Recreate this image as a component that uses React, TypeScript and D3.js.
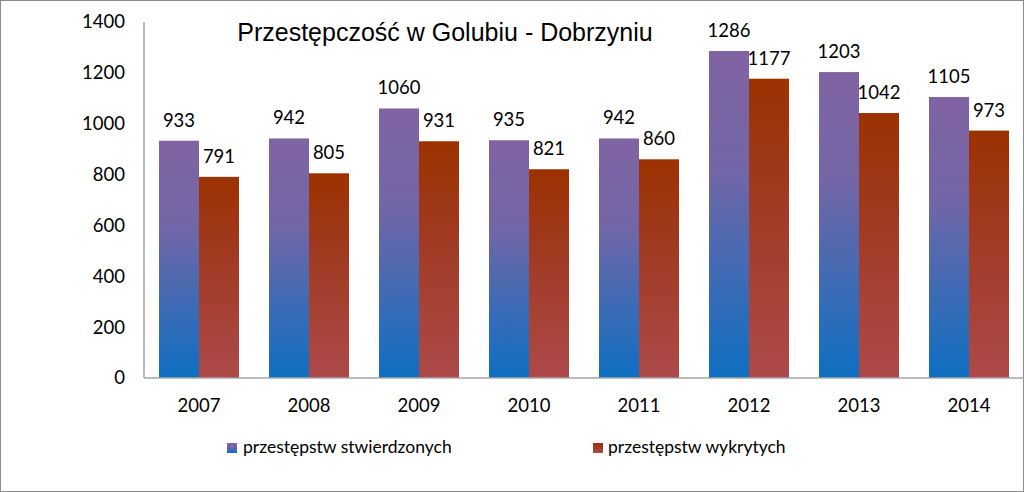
import React from "react";
import * as d3 from "d3";

const years = ["2007", "2008", "2009", "2010", "2011", "2012", "2013", "2014"];
const stwierdzone = [933, 942, 1060, 935, 942, 1286, 1203, 1105];
const wykryte = [791, 805, 931, 821, 860, 1177, 1042, 973];
const yTicks = [0, 200, 400, 600, 800, 1000, 1200, 1400];
const seriesNames = ["przestępstw stwierdzonych", "przestępstw wykrytych"];
const title = "Przestępczość w Golubiu - Dobrzyniu";

const W = 1024;
const H = 492;
const FONT = "Lato, 'Open Sans', sans-serif";

export default function App() {
  const x = d3.scaleBand<string>().domain(years).range([144, 1024]).paddingInner(30 / 110).paddingOuter(15 / 110);
  const y = d3.scaleLinear().domain([0, 1400]).range([378, 22]);
  const bw = x.bandwidth() / 2;
  const series = [
    { name: seriesNames[0], values: stwierdzone, grad: "gPurple" },
    { name: seriesNames[1], values: wykryte, grad: "gRed" },
  ];
  const legendX = [227, 593];

  return (
    <svg width={W} height={H} style={{ position: "fixed", left: 0, top: 0, background: "#fff" }}>
      <defs>
        <linearGradient id="gPurple" x1="0" y1="0" x2="0" y2="1">
          <stop offset="0" stopColor="#8063A2" />
          <stop offset="0.35" stopColor="#7466A6" />
          <stop offset="1" stopColor="#0E6FC2" />
        </linearGradient>
        <linearGradient id="gRed" x1="0" y1="0" x2="0" y2="1">
          <stop offset="0" stopColor="#9C3200" />
          <stop offset="0.4" stopColor="#A03A22" />
          <stop offset="1" stopColor="#AD4A4A" />
        </linearGradient>
      </defs>
      <rect x={0.5} y={0.5} width={W - 1} height={H - 1} fill="#fff" stroke="#8C8C8C" />
      <text x={445} y={41} textAnchor="middle" fontFamily="'Liberation Sans', Arial, sans-serif" fontSize={25} fill="#000">
        {title}
      </text>
      {yTicks.map((t) => (
        <text key={t} x={125} y={y(t)} dy="0.35em" textAnchor="end" fontFamily={FONT} fontSize={18.5} fill="#000">
          {t}
        </text>
      ))}
      {series.map((s, si) =>
        years.map((yr, i) => {
          const bx = (x(yr) as number) + si * bw;
          const v = s.values[i];
          return (
            <g key={yr + si}>
              <rect x={bx} y={y(v)} width={bw} height={y(0) - y(v)} fill={`url(#${s.grad})`} />
              <text x={bx + bw / 2} y={y(v) - 14} textAnchor="middle" fontFamily={FONT} fontSize={18.5} fill="#000">
                {v}
              </text>
            </g>
          );
        })
      )}
      <line x1={144} x2={144} y1={22} y2={378} stroke="#A6A6A6" strokeWidth={1.5} />
      <line x1={144} x2={1024} y1={378} y2={378} stroke="#A6A6A6" strokeWidth={1.5} />
      {years.map((yr) => (
        <text key={yr} x={(x(yr) as number) + x.bandwidth() / 2} y={412} textAnchor="middle" fontFamily={FONT} fontSize={18.5} fill="#000">
          {yr}
        </text>
      ))}
      {series.map((s, si) => (
        <g key={s.name}>
          <rect x={legendX[si]} y={443} width={10} height={10} fill={`url(#${s.grad})`} />
          <text x={legendX[si] + (si === 0 ? 16 : 15)} y={453} fontFamily={FONT} fontSize={17.5} fill="#000">
            {s.name}
          </text>
        </g>
      ))}
    </svg>
  );
}
